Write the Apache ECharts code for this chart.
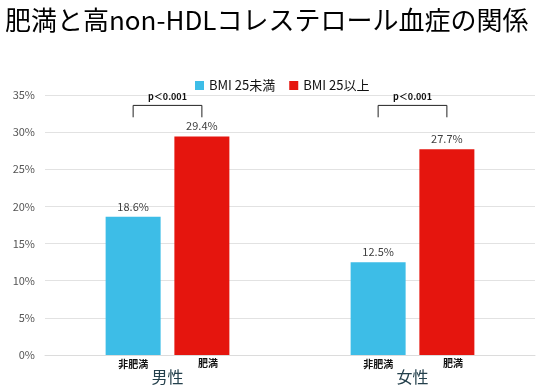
<!DOCTYPE html>
<html><head><meta charset="utf-8">
<script src="https://cdn.jsdelivr.net/npm/echarts@6/dist/echarts.min.js"></script>
<style>html,body{margin:0;padding:0;background:#fff}#c{width:540px;height:389px}</style>
</head><body><div id="c"></div>
<script>
const titleText = '肥満と高non-HDLコレステロール血症の関係';
const categories = ['男性', '女性'];
const seriesNames = ['BMI 25未満', 'BMI 25以上'];
const under25 = [18.6, 12.5];
const over25 = [29.4, 27.7];
const subLabels = ['非肥満', '肥満'];
const pText = 'p＜0.001';
const bracketTop = [33.6, 33.6];
const bracketLeg = [32.0, 32.0];
const yTicks = [0, 5, 10, 15, 20, 25, 30, 35];

const FONT = '"Noto Sans CJK JP","Noto Sans",sans-serif';
const BAR_W = 55, GAP = '25%';
const blue = '#3dbde7', red = '#e5150e';

const chart = echarts.init(document.getElementById('c'));
const half = (BAR_W + BAR_W * 0.25) / 2;

chart.setOption({
  animation: false,
  textStyle: { fontFamily: FONT },
  title: { text: titleText, left: 0, top: 2, textStyle: { fontSize: 26, fontWeight: 'normal', color: '#000', fontFamily: FONT } },
  legend: {
    data: seriesNames, top: 74, left: 190, itemWidth: 9, itemHeight: 9, itemGap: 14, icon: 'rect',
    textStyle: { fontSize: 13, color: '#111', fontFamily: FONT }
  },
  grid: { left: 45, right: 5, top: 95, bottom: 34 },
  xAxis: {
    type: 'category', data: categories,
    axisLine: { lineStyle: { color: '#dcdcdc' } }, axisTick: { show: false },
    axisLabel: { margin: 14, fontSize: 16, color: '#24404c', fontFamily: FONT }
  },
  yAxis: {
    type: 'value', min: yTicks[0], max: yTicks[yTicks.length - 1], interval: 5,
    axisLabel: { formatter: '{value}%', fontSize: 11, color: '#555', margin: 10 },
    splitLine: { lineStyle: { color: '#e2e2e2' } }, axisLine: { show: false }, axisTick: { show: false }
  },
  series: [
    { name: 'lblB', type: 'bar', stack: 'b', data: under25.map(() => 0), barWidth: BAR_W, barGap: GAP,
      label: { show: true, position: 'bottom', distance: 4, formatter: subLabels[0], fontSize: 10, fontWeight: 'bold', color: '#111' },
      itemStyle: { color: blue }, silent: true },
    { name: seriesNames[0], type: 'bar', stack: 'b', data: under25, barWidth: BAR_W, barGap: GAP,
      itemStyle: { color: blue },
      label: { show: true, position: 'top', distance: 5, formatter: '{c}%', fontSize: 11, color: '#404040' } },
    { name: 'lblR', type: 'bar', stack: 'r', data: over25.map(() => 0), barWidth: BAR_W, barGap: GAP,
      label: { show: true, position: 'bottom', distance: 3, offset: [6, 0], formatter: subLabels[1], fontSize: 10, fontWeight: 'bold', color: '#111' },
      itemStyle: { color: red }, silent: true },
    { name: seriesNames[1], type: 'bar', stack: 'r', data: over25, barWidth: BAR_W, barGap: GAP,
      itemStyle: { color: red },
      label: { show: true, position: 'top', distance: 5, formatter: '{c}%', fontSize: 11, color: '#404040' } },
    { type: 'custom', silent: true, z: 10,
      data: categories.map((c, i) => [i, bracketTop[i], bracketLeg[i]]),
      renderItem: function (params, api) {
        const top = api.coord([api.value(0), api.value(1)]);
        const leg = api.coord([api.value(0), api.value(2)]);
        const x1 = top[0] - half, x2 = top[0] + half;
        return { type: 'group', children: [
          { type: 'polyline', shape: { points: [[x1, leg[1]], [x1, top[1]], [x2, top[1]], [x2, leg[1]]] },
            style: { stroke: '#222', lineWidth: 1, fill: null } },
          { type: 'text', style: { text: pText, x: top[0], y: top[1] - 4, align: 'center', verticalAlign: 'bottom',
            font: 'bold 9px ' + FONT, fill: '#111' } }
        ] };
      } }
  ]
});
</script></body></html>
